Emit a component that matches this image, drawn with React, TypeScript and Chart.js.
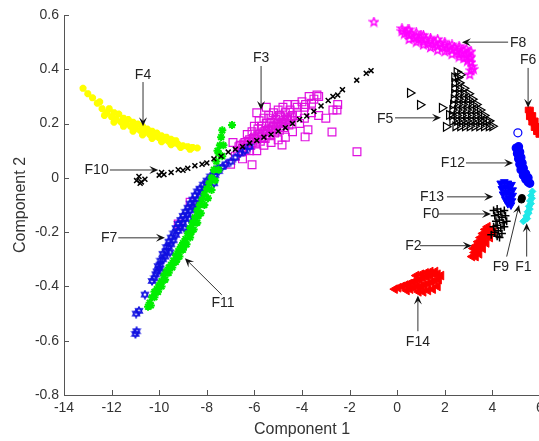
import React, { useEffect, useRef } from "react";
import { Chart, registerables } from "chart.js";

Chart.register(...registerables);

type P = [number, number];

const xTickValues = [-14, -12, -10, -8, -6, -4, -2, 0, 2, 4, 6];
const xTickLabels = ["-14", "-12", "-10", "-8", "-6", "-4", "-2", "0", "2", "4", "6"];
const yTickValues = [-0.8, -0.6, -0.4, -0.2, 0, 0.2, 0.4, 0.6];
const yTickLabels = ["-0.8", "-0.6", "-0.4", "-0.2", "0", "0.2", "0.4", "0.6"];

const f10Black: P[] = [
  [-10.95, -0.01], [-10.85, 0.005], [-10.75, -0.015], [-10.8, -0.02], [-10.6, -0.005], [-10.0, 0.01], [-9.9, 0.02],
  [-9.8, 0.012], [-9.5, 0.02], [-9.2, 0.03], [-9.0, 0.028], [-8.8, 0.035], [-8.5, 0.045], [-8.2, 0.05],
  [-8.0, 0.055], [-7.7, 0.07], [-7.4, 0.08], [-7.1, 0.095], [-6.8, 0.105], [-6.5, 0.115], [-6.2, 0.128],
  [-5.9, 0.138], [-5.6, 0.15], [-5.3, 0.16], [-5.0, 0.172], [-4.7, 0.185], [-4.4, 0.2], [-4.1, 0.215],
  [-3.8, 0.228], [-3.5, 0.245], [-3.2, 0.265], [-2.9, 0.285], [-2.7, 0.3], [-2.5, 0.305], [-2.3, 0.325],
  [-1.7, 0.36], [-1.3, 0.385], [-1.1, 0.395],
];

const f11Green: P[] = [
  [-10.47, -0.475], [-10.4, -0.46], [-10.3, -0.44], [-10.2, -0.42], [-10.1, -0.41], [-10.0, -0.395],
  [-9.9, -0.38], [-9.8, -0.36], [-9.7, -0.345], [-9.6, -0.33], [-9.5, -0.32], [-9.4, -0.305], [-9.3, -0.285],
  [-9.2, -0.27], [-9.1, -0.255], [-9.0, -0.24], [-8.9, -0.225], [-8.8, -0.205], [-8.7, -0.185], [-8.6, -0.165],
  [-8.5, -0.145], [-8.4, -0.12], [-8.3, -0.1], [-8.2, -0.08], [-8.1, -0.06], [-8.0, -0.04], [-7.9, -0.02],
  [-7.8, 0.0], [-7.7, 0.03], [-7.6, 0.06], [-7.5, 0.09], [-7.45, 0.12], [-7.4, 0.15], [-7.55, 0.1],
  [-7.35, 0.175], [-6.94, 0.195], [-9.25, -0.3], [-8.95, -0.25], [-8.65, -0.2], [-8.35, -0.14],
  [-10.35, -0.47], [-10.2, -0.44], [-10.05, -0.42], [-9.9, -0.4], [-9.75, -0.375], [-9.6, -0.35], [-9.45, -0.33],
  [-9.3, -0.31], [-9.15, -0.29], [-9.0, -0.265], [-8.85, -0.245], [-8.7, -0.22], [-8.55, -0.19], [-8.4, -0.165],
  [-8.25, -0.13], [-8.1, -0.1], [-7.95, -0.075], [-7.8, -0.045], [-7.65, -0.01], [-7.5, 0.03], [-7.35, 0.08],
  [-7.3, 0.12],
];

const f7Blue: P[] = [
  [-11.0, -0.575], [-10.95, -0.565], [-10.97, -0.5], [-10.85, -0.49], [-10.6, -0.43], [-10.3, -0.38],
  [-10.2, -0.37], [-10.1, -0.345], [-10.0, -0.335], [-9.95, -0.32], [-9.85, -0.3], [-9.75, -0.29], [-9.7, -0.27],
  [-9.6, -0.255], [-9.5, -0.245], [-9.4, -0.23], [-9.3, -0.21], [-9.2, -0.195], [-9.1, -0.18], [-9.0, -0.165],
  [-8.9, -0.15], [-8.8, -0.135], [-8.7, -0.12], [-8.6, -0.105], [-8.5, -0.09], [-8.4, -0.08], [-8.3, -0.065],
  [-8.2, -0.055], [-8.1, -0.04], [-8.0, -0.03], [-7.9, -0.015], [-7.8, -0.005], [-7.65, 0.01], [-7.5, 0.025],
  [-7.35, 0.04], [-7.2, 0.05], [-7.0, 0.06], [-6.8, 0.075], [-6.6, 0.09], [-6.4, 0.1], [-6.2, 0.115],
  [-9.55, -0.275], [-9.9, -0.345], [-8.95, -0.185], [-8.75, -0.15], [-8.45, -0.115], [-7.7, -0.02],
  [-10.15, -0.355], [-10.05, -0.325], [-9.95, -0.305], [-9.85, -0.28], [-9.7, -0.255], [-9.6, -0.235],
  [-9.5, -0.22], [-9.4, -0.205], [-9.3, -0.185], [-9.2, -0.17], [-9.1, -0.155], [-9.0, -0.14], [-8.9, -0.125],
  [-8.8, -0.11], [-8.7, -0.095], [-8.6, -0.08], [-8.5, -0.065], [-8.4, -0.05], [-8.3, -0.04], [-8.15, -0.025],
  [-8.0, -0.01], [-7.85, 0.005], [-7.7, 0.02], [-7.55, 0.035],
];

const f3Magenta: P[] = [
  [-6.7, 0.1], [-6.6, 0.12], [-6.5, 0.11], [-6.4, 0.13], [-6.3, 0.12], [-6.2, 0.14], [-6.1, 0.13], [-6.0, 0.15],
  [-5.9, 0.14], [-5.8, 0.16], [-5.7, 0.15], [-5.6, 0.17], [-5.5, 0.16], [-5.4, 0.18], [-5.3, 0.17], [-5.2, 0.19],
  [-5.1, 0.18], [-5.0, 0.2], [-4.9, 0.19], [-4.8, 0.21], [-4.7, 0.2], [-4.6, 0.22], [-4.5, 0.21], [-4.4, 0.23],
  [-6.3, 0.16], [-6.0, 0.19], [-5.8, 0.21], [-5.6, 0.22], [-5.4, 0.23], [-5.2, 0.24], [-5.0, 0.25], [-4.8, 0.26],
  [-4.6, 0.27], [-4.3, 0.27], [-4.0, 0.28], [-3.7, 0.3], [-3.5, 0.29], [-3.3, 0.3], [-5.9, 0.24], [-5.5, 0.26],
  [-6.8, 0.08], [-6.5, 0.07], [-6.2, 0.1], [-5.9, 0.1], [-5.6, 0.12], [-5.3, 0.13], [-5.0, 0.14], [-4.7, 0.15],
  [-4.4, 0.17], [-4.1, 0.2], [-3.9, 0.22], [-3.6, 0.24], [-3.3, 0.23], [-3.0, 0.22], [-2.7, 0.25], [-2.5, 0.27],
  [-6.1, 0.048], [-4.84, 0.121], [-2.74, 0.169], [-1.69, 0.096], [-2.53, 0.25], [-3.37, 0.305], [-3.75, 0.177],
  [-3.87, 0.151], [-7.0, 0.05], [-8.7, -0.09], [-9.2, -0.17], [-6.9, 0.13], [-4.2, 0.24], [-3.9, 0.26],
  [-6.65, 0.115], [-6.45, 0.125], [-6.25, 0.135], [-6.05, 0.145], [-5.85, 0.155], [-5.65, 0.165], [-5.45, 0.175],
  [-5.25, 0.185], [-5.05, 0.195], [-4.85, 0.205], [-4.65, 0.215], [-4.45, 0.225], [-6.55, 0.095], [-6.35, 0.105],
  [-6.15, 0.12], [-5.95, 0.125], [-5.75, 0.135], [-5.55, 0.145], [-5.35, 0.155], [-5.15, 0.165], [-4.95, 0.175],
  [-4.75, 0.185], [-4.55, 0.195], [-5.7, 0.19], [-5.5, 0.2], [-5.3, 0.205], [-5.1, 0.215], [-4.9, 0.225],
  [-4.7, 0.24], [-6.1, 0.17], [-5.85, 0.18], [-5.35, 0.22], [-4.95, 0.23], [-4.5, 0.25], [-4.2, 0.26],
  [-3.85, 0.27], [-3.6, 0.275],
];

const f4Yellow: P[] = [
  [-13.2, 0.33], [-13.0, 0.31], [-12.8, 0.295], [-12.6, 0.275], [-12.4, 0.255], [-12.2, 0.24], [-12.0, 0.225],
  [-11.8, 0.215], [-11.6, 0.205], [-11.4, 0.198], [-11.2, 0.19], [-11.0, 0.182], [-10.8, 0.175], [-10.6, 0.168],
  [-10.4, 0.16], [-10.2, 0.153], [-10.0, 0.147], [-9.8, 0.14], [-9.6, 0.134], [-9.4, 0.128], [-9.2, 0.123],
  [-9.0, 0.118], [-8.8, 0.115], [-8.6, 0.112], [-8.4, 0.11],
  [-12.5, 0.28], [-12.1, 0.255], [-11.9, 0.24], [-11.7, 0.235], [-11.5, 0.22], [-11.3, 0.215], [-11.1, 0.205],
  [-10.9, 0.198], [-10.7, 0.19], [-10.5, 0.18], [-10.3, 0.172], [-10.1, 0.165], [-9.9, 0.155], [-9.7, 0.15],
  [-9.5, 0.142], [-9.3, 0.137],
  [-12.3, 0.23], [-11.9, 0.205], [-11.5, 0.19], [-11.1, 0.172], [-10.7, 0.158], [-10.3, 0.145], [-9.9, 0.133],
  [-9.5, 0.122], [-9.1, 0.112], [-8.7, 0.105],
];

const f8Magenta: P[] = [
  [-0.98, 0.574], [0.2, 0.54], [0.3, 0.53], [0.4, 0.535], [0.5, 0.525], [0.6, 0.53], [0.7, 0.515], [0.8, 0.52],
  [0.9, 0.51], [1.0, 0.515], [1.1, 0.5], [1.2, 0.51], [1.3, 0.495], [1.4, 0.505], [1.5, 0.49], [1.6, 0.5],
  [1.7, 0.485], [1.8, 0.495], [1.9, 0.48], [2.0, 0.49], [2.1, 0.475], [2.2, 0.485], [2.3, 0.47], [2.4, 0.48],
  [2.5, 0.465], [2.6, 0.475], [2.7, 0.46], [2.8, 0.47], [2.9, 0.455], [3.0, 0.46], [3.05, 0.44], [3.1, 0.425],
  [3.15, 0.41], [3.1, 0.395], [3.05, 0.38], [3.2, 0.4], [0.45, 0.545], [1.0, 0.525], [2.6, 0.445], [2.8, 0.44],
  [2.95, 0.43],
  [0.2, 0.55], [0.5, 0.545], [0.8, 0.535], [1.1, 0.525], [1.4, 0.515], [1.7, 0.51], [2.0, 0.5], [2.3, 0.49],
  [2.6, 0.485], [2.9, 0.475], [3.1, 0.465],
  [0.5, 0.51], [0.8, 0.5], [1.1, 0.49], [1.4, 0.48], [1.7, 0.47], [2.0, 0.465], [2.3, 0.455], [2.6, 0.455],
  [2.9, 0.445], [3.1, 0.445],
];

const f5Black: P[] = [
  [0.54, 0.313], [0.96, 0.269], [1.88, 0.258], [2.05, 0.188], [2.18, 0.232],
  [2.4, 0.37], [2.55, 0.37],
  [2.42, 0.35], [2.6, 0.35],
  [2.4, 0.33], [2.6, 0.33], [2.8, 0.33],
  [2.4, 0.31], [2.6, 0.31], [2.8, 0.31], [3.0, 0.31],
  [2.38, 0.29], [2.58, 0.29], [2.78, 0.29], [2.98, 0.29], [3.15, 0.29],
  [2.35, 0.27], [2.55, 0.27], [2.75, 0.27], [2.95, 0.27], [3.15, 0.27], [3.32, 0.27],
  [2.32, 0.25], [2.52, 0.25], [2.72, 0.25], [2.92, 0.25], [3.12, 0.25], [3.32, 0.25], [3.48, 0.25],
  [2.3, 0.23], [2.5, 0.23], [2.7, 0.23], [2.9, 0.23], [3.1, 0.23], [3.3, 0.23], [3.5, 0.23], [3.65, 0.23],
  [2.32, 0.21], [2.52, 0.21], [2.72, 0.21], [2.92, 0.21], [3.12, 0.21], [3.32, 0.21], [3.52, 0.21], [3.72, 0.21],
  [3.85, 0.21],
  [2.45, 0.19], [2.65, 0.19], [2.85, 0.19], [3.05, 0.19], [3.25, 0.19], [3.45, 0.19], [3.65, 0.19], [3.85, 0.19],
  [4.0, 0.19],
  [2.5, 0.39], [2.65, 0.38],
];

const f6Red: P[] = [
  [5.5, 0.25], [5.55, 0.24], [5.6, 0.23], [5.65, 0.22], [5.7, 0.21], [5.75, 0.2], [5.8, 0.19], [5.85, 0.18],
  [5.9, 0.17], [5.95, 0.16], [5.55, 0.225], [5.65, 0.205], [5.75, 0.185], [5.85, 0.17], [5.6, 0.25], [5.7, 0.23],
  [5.8, 0.21], [5.9, 0.19],
];

const f12Blue: P[] = [
  [5.0, 0.11], [5.1, 0.115], [5.05, 0.09], [5.15, 0.095], [5.1, 0.07], [5.2, 0.075], [5.15, 0.05], [5.25, 0.055],
  [5.2, 0.03], [5.3, 0.035], [5.3, 0.01], [5.4, 0.015], [5.4, -0.005], [5.5, 0.0], [5.5, -0.015], [5.57, -0.02],
  [5.07, 0.166],
];

const f13Blue: P[] = [
  [4.35, -0.02], [4.5, -0.015], [4.65, -0.02], [4.8, -0.025], [4.4, -0.04], [4.55, -0.035], [4.7, -0.04],
  [4.85, -0.045], [4.45, -0.06], [4.6, -0.055], [4.75, -0.06], [4.85, -0.065], [4.55, -0.08], [4.7, -0.075],
  [4.82, -0.085], [4.65, -0.095], [4.78, -0.1],
];

const f9Black: P[] = [[5.24, -0.074], [5.22, -0.08]];

const f1Cyan: P[] = [
  [5.68, -0.05], [5.62, -0.065], [5.66, -0.075], [5.58, -0.085], [5.62, -0.095], [5.53, -0.105], [5.57, -0.115],
  [5.48, -0.125], [5.52, -0.13], [5.43, -0.14], [5.46, -0.15], [5.36, -0.155], [5.3, -0.16],
];

const f0Black: P[] = [
  [4.05, -0.12], [4.2, -0.115], [4.35, -0.125], [4.5, -0.12], [4.1, -0.14], [4.25, -0.135], [4.4, -0.145],
  [4.55, -0.14], [4.15, -0.16], [4.3, -0.155], [4.45, -0.165], [4.6, -0.16], [4.05, -0.18], [4.2, -0.175],
  [4.35, -0.185], [4.5, -0.18], [4.1, -0.2], [4.25, -0.195], [4.4, -0.205], [4.2, -0.215], [3.95, -0.21],
  [4.3, -0.22],
];

const f2Red: P[] = [
  [3.15, -0.29], [3.25, -0.275], [3.2, -0.26], [3.35, -0.27], [3.3, -0.25], [3.45, -0.255], [3.4, -0.235],
  [3.55, -0.24], [3.5, -0.22], [3.65, -0.225], [3.6, -0.205], [3.75, -0.21], [3.7, -0.19], [3.85, -0.2],
  [3.8, -0.18], [3.95, -0.19], [3.3, -0.29], [3.45, -0.28], [3.6, -0.26], [3.75, -0.24], [3.9, -0.22],
  [4.05, -0.2],
];

const f14Red: P[] = [
  [-0.1, -0.41], [0.05, -0.405], [0.2, -0.4], [0.35, -0.395], [0.5, -0.39], [0.65, -0.385], [0.8, -0.38],
  [0.95, -0.375], [1.1, -0.37], [1.25, -0.365], [1.4, -0.36], [1.55, -0.355], [1.7, -0.355], [1.85, -0.36],
  [0.4, -0.415], [0.55, -0.41], [0.7, -0.405], [0.85, -0.4], [1.0, -0.4], [1.15, -0.395], [1.3, -0.39],
  [1.45, -0.385], [1.6, -0.38], [1.75, -0.375], [0.9, -0.42], [1.1, -0.42], [1.3, -0.415], [1.5, -0.41],
  [1.7, -0.4], [0.8, -0.36], [1.2, -0.35], [1.6, -0.345], [1.0, -0.355], [1.4, -0.345],
];

// label, text position, arrow start, arrow tip (data units)
const annotationLabels = ["F4", "F3", "F8", "F6", "F5", "F12", "F13", "F0", "F2", "F9", "F1", "F14", "F10", "F7", "F11"];
const annotationText: P[] = [
  [-10.68, 0.379], [-5.72, 0.442], [5.08, 0.497], [5.5, 0.434], [-0.51, 0.217], [2.34, 0.055], [1.46, -0.07],
  [1.42, -0.133], [0.68, -0.25], [4.36, -0.328], [5.3, -0.328], [0.87, -0.604], [-12.63, 0.029], [-12.1, -0.221],
  [-7.32, -0.46],
];
const arrowFrom: P[] = [
  [-10.68, 0.353], [-5.72, 0.412], [4.66, 0.5], [5.5, 0.405], [-0.09, 0.221], [2.89, 0.055], [2.09, -0.07],
  [1.71, -0.133], [0.96, -0.25], [4.6, -0.29], [5.44, -0.29], [0.87, -0.565], [-12.07, 0.029], [-11.72, -0.221],
  [-7.37, -0.431],
];
const arrowTo: P[] = [
  [-10.68, 0.19], [-5.72, 0.25], [2.72, 0.5], [5.5, 0.258], [1.84, 0.221], [4.87, 0.055], [4.03, -0.07],
  [3.94, -0.133], [3.13, -0.25], [5.12, -0.1], [5.44, -0.167], [0.87, -0.433], [-10.04, 0.029], [-9.76, -0.221],
  [-8.92, -0.296],
];

const FONT = '"Liberation Sans", Arial, Helvetica, sans-serif';

function makeStarImage(kind: "hex" | "pent", color: string, size: number, lw: number): HTMLCanvasElement {
  const c = document.createElement("canvas");
  c.width = size;
  c.height = size;
  const g = c.getContext("2d")!;
  g.strokeStyle = color;
  g.lineWidth = lw;
  const cx = size / 2;
  const cy = size / 2;
  const r = size / 2 - 1;
  if (kind === "hex") {
    for (let t = 0; t < 2; t++) {
      g.beginPath();
      for (let i = 0; i < 3; i++) {
        const a = -Math.PI / 2 + t * Math.PI + (i * 2 * Math.PI) / 3;
        const px = cx + r * Math.cos(a);
        const py = cy + r * Math.sin(a);
        if (i === 0) g.moveTo(px, py);
        else g.lineTo(px, py);
      }
      g.closePath();
      g.stroke();
    }
  } else {
    g.beginPath();
    for (let i = 0; i < 10; i++) {
      const a = -Math.PI / 2 + (i * Math.PI) / 5;
      const rr = i % 2 === 0 ? r : r * 0.42;
      const px = cx + rr * Math.cos(a);
      const py = cy + rr * Math.sin(a);
      if (i === 0) g.moveTo(px, py);
      else g.lineTo(px, py);
    }
    g.closePath();
    g.stroke();
  }
  return c;
}

const toXY = (arr: P[]) => arr.map(([x, y]) => ({ x, y }));

const overlayPlugin = {
  id: "overlay",
  afterDraw(chart: any) {
    const { ctx, chartArea } = chart;
    const xs = chart.scales.x;
    const ys = chart.scales.y;
    ctx.save();
    ctx.strokeStyle = "#555";
    ctx.lineWidth = 1;
    ctx.beginPath();
    xTickValues.forEach((v) => {
      const px = Math.round(xs.getPixelForValue(v)) + 0.5;
      ctx.moveTo(px, chartArea.bottom);
      ctx.lineTo(px, chartArea.bottom - 5);
    });
    yTickValues.forEach((v) => {
      const py = Math.round(ys.getPixelForValue(v)) + 0.5;
      ctx.moveTo(chartArea.left, py);
      ctx.lineTo(chartArea.left + 5, py);
    });
    ctx.stroke();

    ctx.font = `14px ${FONT}`;
    ctx.textAlign = "center";
    ctx.textBaseline = "middle";
    annotationLabels.forEach((lab, i) => {
      const tx = xs.getPixelForValue(annotationText[i][0]);
      const ty = ys.getPixelForValue(annotationText[i][1]);
      ctx.fillStyle = "#222";
      ctx.fillText(lab, tx, ty);
      const x0 = xs.getPixelForValue(arrowFrom[i][0]);
      const y0 = ys.getPixelForValue(arrowFrom[i][1]);
      const x1 = xs.getPixelForValue(arrowTo[i][0]);
      const y1 = ys.getPixelForValue(arrowTo[i][1]);
      const ang = Math.atan2(y1 - y0, x1 - x0);
      const hl = 9;
      const hw = 4;
      ctx.strokeStyle = "#333";
      ctx.beginPath();
      ctx.moveTo(x0, y0);
      ctx.lineTo(x1 - Math.cos(ang) * hl * 0.6, y1 - Math.sin(ang) * hl * 0.6);
      ctx.stroke();
      ctx.fillStyle = "#111";
      ctx.beginPath();
      ctx.moveTo(x1, y1);
      ctx.lineTo(x1 - Math.cos(ang) * hl - Math.sin(ang) * hw, y1 - Math.sin(ang) * hl + Math.cos(ang) * hw);
      ctx.lineTo(x1 - Math.cos(ang) * hl * 0.6, y1 - Math.sin(ang) * hl * 0.6);
      ctx.lineTo(x1 - Math.cos(ang) * hl + Math.sin(ang) * hw, y1 - Math.sin(ang) * hl - Math.cos(ang) * hw);
      ctx.closePath();
      ctx.fill();
    });
    ctx.restore();
  },
};

export default function App() {
  const ref = useRef<HTMLCanvasElement | null>(null);

  useEffect(() => {
    if (!ref.current) return;
    const hexImg = makeStarImage("hex", "#1010e0", 10, 1.3);
    const pentImg = makeStarImage("pent", "#ff00ff", 11, 1.4);

    const chart = new Chart(ref.current, {
      type: "scatter",
      data: {
        datasets: [
          { label: "F10", data: toXY(f10Black), pointStyle: "crossRot", radius: 3.5, borderColor: "#000", borderWidth: 1.5, backgroundColor: "#000" },
          { label: "F0", data: toXY(f0Black), pointStyle: "cross", radius: 4, borderColor: "#000", borderWidth: 1.5, backgroundColor: "#000" },
          { label: "F9", data: toXY(f9Black), pointStyle: "circle", radius: 3.5, borderColor: "#000", borderWidth: 1, backgroundColor: "#000" },
          { label: "F11", data: toXY(f11Green), pointStyle: "star", radius: 4, borderColor: "#00ee00", borderWidth: 2, backgroundColor: "#00ee00" },
          { label: "F7", data: toXY(f7Blue), pointStyle: hexImg as any, radius: 5, borderColor: "#1010e0", backgroundColor: "#1010e0" },
          { label: "F3", data: toXY(f3Magenta), pointStyle: "rect", radius: 5.5, borderColor: "#e010e0", borderWidth: 1.2, backgroundColor: "rgba(0,0,0,0)" },
          { label: "F4", data: toXY(f4Yellow), pointStyle: "star", radius: 3.5, borderColor: "#ffff00", borderWidth: 2.5, backgroundColor: "#ffff00" },
          { label: "F8", data: toXY(f8Magenta), pointStyle: pentImg as any, radius: 5.5, borderColor: "#ff00ff", backgroundColor: "#ff00ff" },
          { label: "F5", data: toXY(f5Black), pointStyle: "triangle", rotation: 90, radius: 5, borderColor: "#000", borderWidth: 1.2, backgroundColor: "rgba(0,0,0,0)" },
          { label: "F6", data: toXY(f6Red), pointStyle: "rect", radius: 4, borderColor: "#ff0000", borderWidth: 1, backgroundColor: "#ff0000" },
          { label: "F12", data: toXY(f12Blue), pointStyle: "circle", radius: 4, borderColor: "#0000ff", borderWidth: 1.2, backgroundColor: (ctx: any) => (ctx.dataIndex === f12Blue.length - 1 ? "rgba(0,0,0,0)" : "#0000ff") },
          { label: "F13", data: toXY(f13Blue), pointStyle: "triangle", rotation: 180, radius: 4.5, borderColor: "#0000ff", borderWidth: 1, backgroundColor: "#0000ff" },
          { label: "F1", data: toXY(f1Cyan), pointStyle: "rectRot", radius: 3.5, borderColor: "#20e8e8", borderWidth: 1, backgroundColor: "#20e8e8" },
          { label: "F2", data: toXY(f2Red), pointStyle: "triangle", rotation: -90, radius: 5, borderColor: "#ff0000", borderWidth: 1, backgroundColor: "#ff0000" },
          { label: "F14", data: toXY(f14Red), pointStyle: "triangle", rotation: -90, radius: 5, borderColor: "#ff0000", borderWidth: 1, backgroundColor: "#ff0000" },
        ] as any,
      },
      options: {
        animation: false,
        responsive: true,
        maintainAspectRatio: false,
        events: [],
        layout: { padding: { left: 0, top: 15, right: 20, bottom: 0 } },
        plugins: { legend: { display: false }, tooltip: { enabled: false } },
        scales: {
          x: {
            type: "linear",
            min: -14,
            max: 6,
            grid: { display: false, drawTicks: false },
            border: { display: true, color: "#555", width: 1 },
            afterBuildTicks: (scale: any) => {
              scale.ticks = xTickValues.map((v) => ({ value: v }));
            },
            afterFit: (scale: any) => {
              scale.height = 46;
            },
            ticks: {
              padding: 5,
              color: "#333",
              font: { family: FONT, size: 14 },
              maxRotation: 0,
              autoSkip: false,
              callback: (v: any) => {
                const i = xTickValues.indexOf(Number(v));
                return i >= 0 ? xTickLabels[i] : "";
              },
            },
            title: {
              display: true,
              text: "Component 1",
              color: "#333",
              font: { family: FONT, size: 16 },
              padding: { top: 0, bottom: 2 },
            },
          },
          y: {
            type: "linear",
            min: -0.8,
            max: 0.6,
            grid: { display: false, drawTicks: false },
            border: { display: true, color: "#555", width: 1 },
            afterBuildTicks: (scale: any) => {
              scale.ticks = yTickValues.map((v) => ({ value: v }));
            },
            afterFit: (scale: any) => {
              scale.width = 64;
            },
            ticks: {
              padding: 5,
              color: "#333",
              font: { family: FONT, size: 14 },
              autoSkip: false,
              callback: (v: any) => {
                const i = yTickValues.findIndex((t) => Math.abs(t - Number(v)) < 1e-9);
                return i >= 0 ? yTickLabels[i] : "";
              },
            },
            title: {
              display: true,
              text: "Component 2",
              color: "#333",
              font: { family: FONT, size: 16 },
              padding: { top: 11, bottom: 0 },
            },
          },
        },
      } as any,
      plugins: [overlayPlugin],
    });
    return () => chart.destroy();
  }, []);

  return (
    <div style={{ position: "fixed", left: 0, top: 0, width: 539, height: 441, overflow: "hidden", background: "#fff" }}>
      <div style={{ position: "relative", width: 560, height: 441 }}>
        <canvas ref={ref} />
      </div>
    </div>
  );
}
